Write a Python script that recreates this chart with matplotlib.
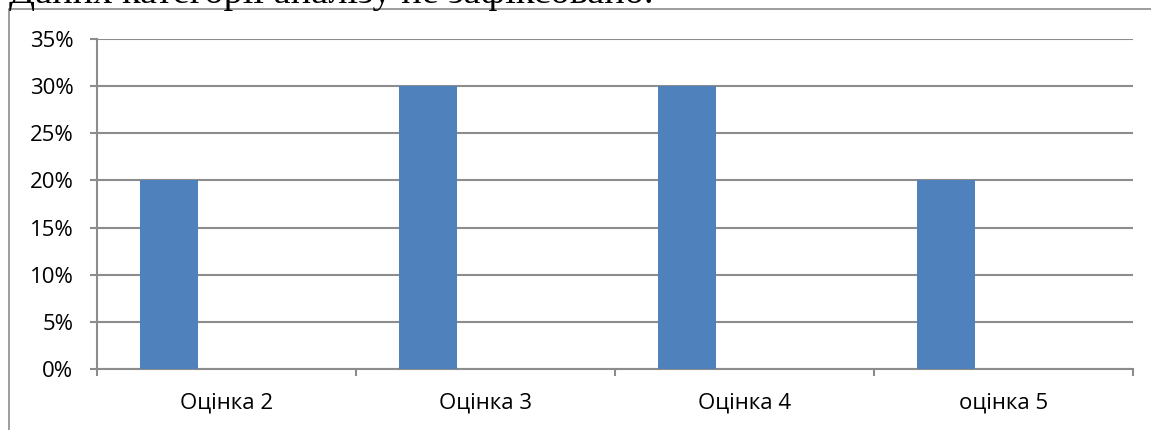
import matplotlib
matplotlib.use('Agg')
import matplotlib.pyplot as plt
import numpy as np
from matplotlib.patches import Rectangle
from matplotlib.ticker import FixedLocator, PercentFormatter

# chart data
categories = ['Оцінка 2', 'Оцінка 3', 'Оцінка 4', 'оцінка 5']
shares = [0.20, 0.30, 0.30, 0.20]
y_ticks = [0, 0.05, 0.10, 0.15, 0.20, 0.25, 0.30, 0.35]
heading = 'Даних категорії аналізу не зафіксовано.'

bar_color = '#4F81BD'
grid_color = '#8C8C8C'

plt.rcParams['font.family'] = ['Open Sans', 'DejaVu Sans']

fig = plt.figure(figsize=(11.51, 4.30), dpi=100)

# line of document text above the chart, mostly cut off by the page edge
fig.text(0.008, 1 - 3 / 430, heading, fontsize=27.5, family=['Liberation Serif'],
         va='baseline', ha='left', color='black')

# chart frame
fig.patches.append(Rectangle((9 / 1151, -0.05), 1.2, 1 - 9 / 430 + 0.05,
                             transform=fig.transFigure, fill=False,
                             edgecolor='#8C8C8C', lw=1.2))

ax = fig.add_axes([97 / 1151, 1 - 369 / 430, 1036 / 1151, 330 / 430])

x = np.arange(len(categories))
ax.bar(x - 0.222, shares, width=0.224, color=bar_color, zorder=3)

ax.set_xlim(-0.5, len(categories) - 0.5)
ax.set_ylim(0, 0.35)
ax.set_yticks(y_ticks)
ax.yaxis.set_major_formatter(PercentFormatter(1.0, decimals=0))
ax.yaxis.grid(True, color=grid_color, lw=1.5, zorder=0)

ax.set_xticks(x)
ax.set_xticklabels(categories, fontsize=16)
ax.tick_params(axis='x', length=0, pad=17)
ax.xaxis.set_minor_locator(FixedLocator(np.arange(-0.5, len(categories), 1.0)))
ax.tick_params(axis='x', which='minor', length=5, width=1.5, color=grid_color)
ax.tick_params(axis='y', length=5, width=1.5, color=grid_color, labelsize=16, pad=12)

for side in ['top', 'right']:
    ax.spines[side].set_visible(False)
for side in ['left', 'bottom']:
    ax.spines[side].set_color(grid_color)
    ax.spines[side].set_linewidth(1.5)

fig.savefig('out.png', dpi=100)
